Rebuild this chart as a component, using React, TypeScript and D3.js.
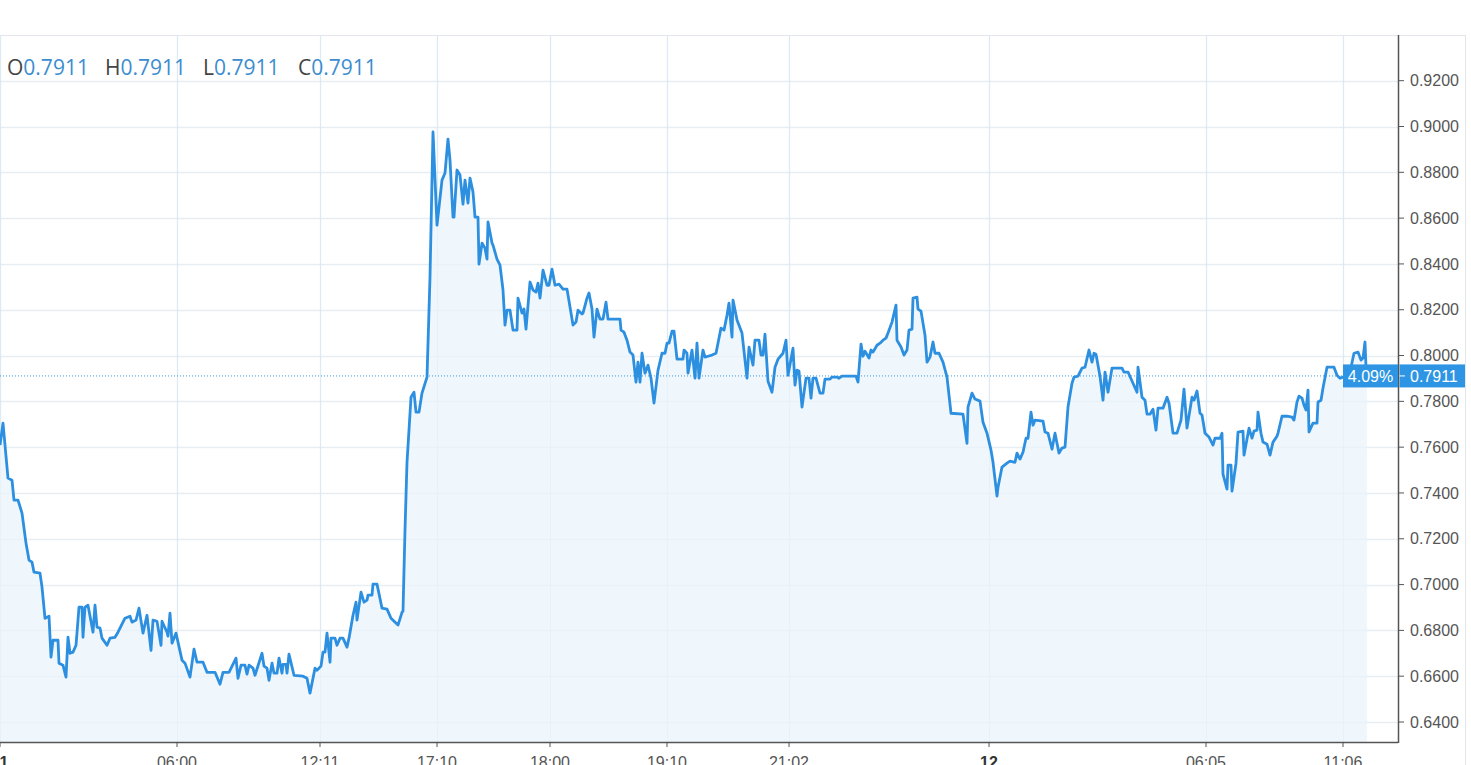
import React from "react";
import * as d3 from "d3";

// bar index (time slot on the irregular, index-based time axis)
const bars = [0,3,8,12,14,18,22,26,29,32,34,40,42,45,49,51,53,58,59,63,66,68,70,73,76,79,82,83,85,88,93,95,97,100,102,107,110,115,118,125,130,132,136,139,143,147,151,153,157,161,162,167,168,170,172,176,182,185,190,194,197,203,207,215,220,223,229,236,238,241,245,247,249,253,255,262,264,267,269,272,274,277,279,282,283,286,287,289,294,303,307,310,315,317,321,323,325,327,330,331,335,337,340,343,347,349,353,356,357,361,364,367,368,372,373,377,382,387,391,398,402,403,405,407,409,411,414,416,419,422,427,430,433,437,442,445,448,450,453,454,457,460,463,465,468,470,473,475,478,479,482,485,487,488,492,493,497,500,503,505,507,510,513,517,518,522,524,526,530,533,536,538,540,543,547,549,552,555,559,563,567,568,573,576,578,582,583,587,589,592,594,597,600,603,606,608,620,621,624,627,630,633,636,638,640,642,645,648,651,654,658,662,665,667,669,672,674,677,683,684,687,688,692,695,697,699,703,705,708,712,716,721,724,727,729,732,733,737,742,747,749,753,755,759,761,763,765,768,772,775,778,783,786,788,793,795,797,799,802,806,809,811,813,816,820,823,825,830,832,837,839,842,856,858,861,863,865,869,871,873,877,880,883,886,888,892,896,897,901,904,907,909,912,913,917,918,921,925,927,930,933,935,939,943,947,951,963,967,968,972,975,980,983,987,991,993,997,998,1002,1007,1010,1015,1017,1020,1023,1026,1028,1031,1033,1035,1043,1045,1048,1052,1055,1059,1062,1065,1068,1072,1074,1078,1082,1085,1089,1092,1094,1096,1100,1103,1105,1108,1112,1122,1124,1128,1133,1137,1138,1142,1145,1147,1150,1153,1156,1158,1163,1167,1169,1173,1177,1181,1184,1187,1192,1194,1197,1200,1202,1205,1209,1213,1215,1220,1222,1223,1227,1228,1231,1232,1236,1238,1243,1244,1249,1252,1254,1257,1258,1261,1263,1267,1270,1273,1277,1278,1282,1287,1292,1294,1297,1299,1302,1304,1306,1308,1309,1313,1317,1318,1321,1323,1327,1334,1337,1340,1343,1347,1350,1354,1358,1361,1363,1365,1366,1367];

const closes = [0.7609,0.7705,0.7465,0.7456,0.7369,0.7369,0.7312,0.7181,0.7107,0.7098,0.7054,0.7050,0.6989,0.6853,0.6862,0.6683,0.6757,0.6757,0.6657,0.6648,0.6596,0.6770,0.6700,0.6705,0.6735,0.6901,0.6901,0.6770,0.6901,0.6910,0.6792,0.6910,0.6814,0.6810,0.6766,0.6735,0.6766,0.6770,0.6792,0.6853,0.6862,0.6836,0.6845,0.6897,0.6788,0.6866,0.6713,0.6845,0.6840,0.6735,0.6840,0.6792,0.6775,0.6875,0.6744,0.6788,0.6670,0.6657,0.6596,0.6718,0.6661,0.6661,0.6617,0.6617,0.6565,0.6617,0.6617,0.6679,0.6591,0.6648,0.6648,0.6609,0.6648,0.6635,0.6604,0.6700,0.6644,0.6635,0.6582,0.6657,0.6613,0.6613,0.6679,0.6613,0.6652,0.6652,0.6613,0.6696,0.6604,0.6600,0.6591,0.6526,0.6635,0.6626,0.6644,0.6705,0.6705,0.6788,0.6661,0.6766,0.6766,0.6735,0.6766,0.6766,0.6727,0.6766,0.6866,0.6923,0.6845,0.6967,0.6923,0.6932,0.6954,0.6954,0.7002,0.7002,0.6897,0.6893,0.6853,0.6823,0.6879,0.6884,0.7238,0.7534,0.7674,0.7818,0.7840,0.7753,0.7753,0.7836,0.7906,0.8342,0.8976,0.8569,0.8766,0.8797,0.8945,0.8853,0.8604,0.8604,0.8810,0.8788,0.8661,0.8766,0.8666,0.8775,0.8714,0.8604,0.8604,0.8399,0.8491,0.8469,0.8421,0.8583,0.8491,0.8482,0.8421,0.8395,0.8286,0.8133,0.8198,0.8198,0.8111,0.8111,0.8251,0.8185,0.8203,0.8115,0.8321,0.8286,0.8277,0.8316,0.8251,0.8373,0.8307,0.8307,0.8377,0.8307,0.8312,0.8290,0.8290,0.8264,0.8133,0.8146,0.8198,0.8181,0.8185,0.8251,0.8273,0.8203,0.8080,0.8203,0.8159,0.8159,0.8233,0.8159,0.8159,0.8111,0.8102,0.8067,0.8015,0.8002,0.7884,0.7971,0.7884,0.8010,0.7923,0.7958,0.7901,0.7792,0.7936,0.8010,0.8010,0.8054,0.8054,0.8106,0.8106,0.7984,0.7984,0.8024,0.8010,0.7923,0.8024,0.7901,0.8054,0.7901,0.8024,0.7993,0.7997,0.8002,0.8010,0.8120,0.8111,0.8176,0.8229,0.8080,0.8242,0.8155,0.8098,0.7901,0.8037,0.7958,0.8067,0.8067,0.8002,0.8002,0.8093,0.7888,0.7840,0.7949,0.7984,0.8010,0.8067,0.7914,0.8032,0.7871,0.7936,0.7932,0.7775,0.7901,0.7901,0.7814,0.7901,0.7901,0.7836,0.7836,0.7897,0.7897,0.7906,0.7906,0.7901,0.7910,0.7910,0.7884,0.8050,0.7997,0.8019,0.7989,0.8024,0.8015,0.8045,0.8054,0.8067,0.8076,0.8098,0.8146,0.8220,0.8067,0.8037,0.8002,0.8024,0.8111,0.8115,0.8251,0.8255,0.8203,0.8194,0.8089,0.7971,0.7993,0.8059,0.8010,0.8010,0.7971,0.7906,0.7748,0.7744,0.7617,0.7775,0.7836,0.7810,0.7801,0.7709,0.7661,0.7587,0.7534,0.7386,0.7425,0.7513,0.7530,0.7539,0.7534,0.7574,0.7548,0.7578,0.7639,0.7639,0.7753,0.7696,0.7718,0.7714,0.7666,0.7661,0.7591,0.7661,0.7574,0.7596,0.7600,0.7775,0.7879,0.7906,0.7910,0.7945,0.7949,0.8024,0.7971,0.8010,0.8006,0.7910,0.7805,0.7928,0.7840,0.7945,0.7945,0.7928,0.7928,0.7879,0.7840,0.7949,0.7818,0.7805,0.7744,0.7744,0.7766,0.7674,0.7770,0.7770,0.7818,0.7792,0.7661,0.7661,0.7718,0.7853,0.7683,0.7818,0.7805,0.7845,0.7748,0.7740,0.7661,0.7644,0.7609,0.7639,0.7639,0.7661,0.7482,0.7417,0.7521,0.7521,0.7408,0.7530,0.7666,0.7670,0.7565,0.7683,0.7639,0.7670,0.7674,0.7753,0.7661,0.7622,0.7613,0.7565,0.7622,0.7648,0.7661,0.7735,0.7735,0.7731,0.7718,0.7797,0.7823,0.7814,0.7783,0.7762,0.7849,0.7666,0.7705,0.7705,0.7797,0.7805,0.7858,0.7949,0.7949,0.7914,0.7901,0.7906,0.7906,0.7928,0.8010,0.8015,0.7980,0.7989,0.8059,0.7949,0.7911];

const tickBars = [0, 177, 320, 437, 550, 667, 789, 989, 1206, 1343];
const tickLabels = ["11", "06:00", "12:11", "17:10", "18:00", "19:10", "21:02", "12", "06:05", "11:06"];
const boldTicks = ["11", "12"];

const priceTicks = [0.64, 0.66, 0.68, 0.70, 0.72, 0.74, 0.76, 0.78, 0.80, 0.82, 0.84, 0.86, 0.88, 0.90, 0.92];

const ohlcLabels = ["O", "H", "L", "C"];
const ohlcValues = [0.7911, 0.7911, 0.7911, 0.7911];
const lastPrice = 0.7911;
const changeLabel = "4.09%";

const W = 1471;
const H = 765;
const TOP = 35;
const AXIS_X = 1398;
const AXIS_Y = 742;
const FRAME_R = 1465;

const LINE = "#2c8fe0";
const BLUE_LABEL = "#2d95e3";

export default function App() {
  const x = d3.scaleLinear().domain([0, 1374]).range([0, 1374]);
  const y = d3.scaleLinear().domain([0.64, 0.92]).range([722, 80.7]);

  const data = bars.map((b, i) => ({ b, v: closes[i] }));
  const line = d3.line<any>().x((d) => x(d.b)).y((d) => y(d.v));
  const area = d3
    .area<any>()
    .x((d) => x(d.b))
    .y0(AXIS_Y)
    .y1((d) => y(d.v));

  const groupX = [7, 105, 203, 298];
  const yLast = y(lastPrice);

  return (
    <svg
      width={W}
      height={H}
      style={{ position: "fixed", left: 0, top: 0, background: "#fff" }}
    >
      {/* frame */}
      <line x1={0} x2={FRAME_R} y1={TOP + 0.5} y2={TOP + 0.5} stroke="#e3e6ea" />
      <line x1={FRAME_R + 0.5} x2={FRAME_R + 0.5} y1={TOP} y2={H} stroke="#e3e6ea" />

      {/* horizontal grid */}
      {priceTicks.map((t) => (
        <line
          key={"h" + t}
          x1={0}
          x2={AXIS_X}
          y1={Math.round(y(t)) + 0.5}
          y2={Math.round(y(t)) + 0.5}
          stroke="#e6eef4"
          strokeWidth={1.3}
        />
      ))}
      {/* vertical grid */}
      {tickBars.map((t) => (
        <line
          key={"v" + t}
          x1={Math.round(x(t)) + 0.5}
          x2={Math.round(x(t)) + 0.5}
          y1={TOP}
          y2={AXIS_Y}
          stroke="#dceaf5"
          strokeWidth={1.3}
        />
      ))}

      {/* area + line */}
      <path d={area(data) || ""} fill="#eaf3fb" fillOpacity={0.7} />
      <path
        d={line(data) || ""}
        fill="none"
        stroke={LINE}
        strokeWidth={2.8}
        strokeLinejoin="round"
      />

      {/* last price dotted line */}
      <line
        x1={0}
        x2={1343}
        y1={yLast}
        y2={yLast}
        stroke="#3d9be0"
        strokeWidth={1}
        strokeDasharray="1,2"
      />

      {/* axes */}
      <line x1={AXIS_X + 0.5} x2={AXIS_X + 0.5} y1={TOP} y2={AXIS_Y + 1} stroke="#555" strokeWidth={1.5} />
      <line x1={0} x2={AXIS_X} y1={AXIS_Y + 0.5} y2={AXIS_Y + 0.5} stroke="#555" strokeWidth={1.5} />

      {priceTicks.map((t) => (
        <g key={"yt" + t}>
          <line x1={AXIS_X} x2={AXIS_X + 6} y1={y(t)} y2={y(t)} stroke="#555" />
          <text
            x={1410}
            y={y(t)}
            dy="0.35em"
            fontFamily="'Liberation Sans', Arial, sans-serif"
            fontSize={16}
            fill="#555"
          >
            {t.toFixed(4)}
          </text>
        </g>
      ))}

      {tickBars.map((t, i) => (
        <g key={"xt" + t}>
          <line x1={x(t)} x2={x(t)} y1={AXIS_Y} y2={AXIS_Y + 5} stroke="#555" />
          <text
            x={x(t)}
            y={768}
            textAnchor="middle"
            fontFamily="'Liberation Sans', Arial, sans-serif"
            fontSize={16}
            fontWeight={boldTicks.includes(tickLabels[i]) ? "bold" : "normal"}
            fill={boldTicks.includes(tickLabels[i]) ? "#333" : "#555"}
          >
            {tickLabels[i]}
          </text>
        </g>
      ))}

      {/* price label */}
      <rect x={1343} y={yLast - 11.5} width={AXIS_X - 1343} height={23} fill={BLUE_LABEL} />
      <text
        x={(1343 + AXIS_X) / 2}
        y={yLast}
        dy="0.35em"
        textAnchor="middle"
        fontFamily="'Liberation Sans', Arial, sans-serif"
        fontSize={16}
        fill="#fff"
      >
        {changeLabel}
      </text>
      <rect x={AXIS_X + 1.5} y={yLast - 11.5} width={FRAME_R - AXIS_X - 1.5} height={23} fill={BLUE_LABEL} />
      <line x1={AXIS_X + 1.5} x2={AXIS_X + 7} y1={yLast} y2={yLast} stroke="#fff" />
      <text
        x={1410}
        y={yLast}
        dy="0.35em"
        fontFamily="'Liberation Sans', Arial, sans-serif"
        fontSize={16}
        fill="#fff"
      >
        {lastPrice.toFixed(4)}
      </text>

      {/* OHLC legend */}
      {ohlcLabels.map((l, i) => (
        <text
          key={"lg" + l}
          x={groupX[i]}
          y={75}
          fontFamily="'Open Sans', sans-serif"
          fontSize={21}
        >
          <tspan fill="#444">{l}</tspan>
          <tspan fill="#3b8dd0">{ohlcValues[i].toFixed(4)}</tspan>
        </text>
      ))}
    </svg>
  );
}
